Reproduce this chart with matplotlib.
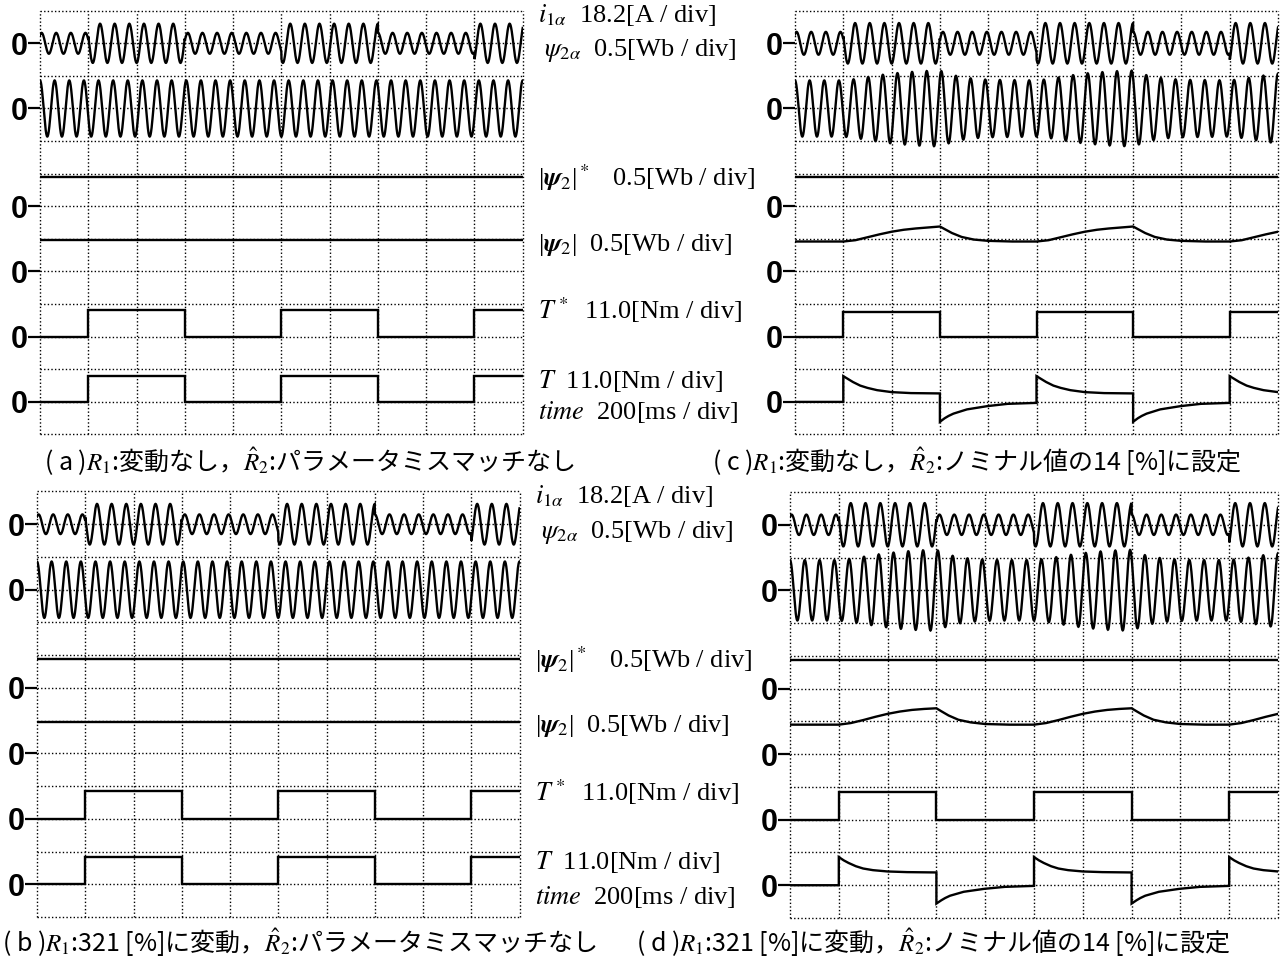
import numpy as np
import matplotlib
matplotlib.use("Agg")
from matplotlib import pyplot as plt

plt.rcParams['mathtext.fontset'] = 'stix'

W, H = 1283, 958

# ---- data (all levels in scope divisions above each channel's zero) ----
n_div = 10
n_rows = 13
cycles_per_div = 3.3
on_times = [1, 5, 9]          # T* steps up [div]
off_times = [3, 7]            # T* steps down [div]
on_intervals = [(1, 3), (5, 7), (9, 10)]

# channel zero positions on the 13-row screen (rows counted from the bottom)
zero_rows = {'i1a': 12, 'psia': 10, 'psiref': 7, 'psi': 5, 'Tref': 3, 'T': 1}

# panels without R2 mismatch: constant levels
const_a = {'i_small': 0.32, 'i_large': 0.60, 'psia_amp': 0.86,
           'psiref': 0.90, 'psi': 0.97, 'Tref': 0.82, 'T': 0.80}
const_b = {'i_small': 0.30, 'i_large': 0.62, 'psia_amp': 0.86,
           'psiref': 0.88, 'psi': 0.97, 'Tref': 0.84, 'T': 0.82}

# panels with R2 set to 14 %: responses after a step (offset [div], level [div])
rise_off = [0, 0.25, 0.5, 0.75, 1.0, 1.25, 1.5, 1.75, 2.0]
fall_off = [0, 0.1, 0.25, 0.45, 0.7, 1.0, 1.5, 2.0]
psi_rise_c = [0.92, 0.96, 1.05, 1.14, 1.22, 1.28, 1.32, 1.35, 1.38]
psi_fall_c = [1.38, 1.30, 1.18, 1.06, 0.98, 0.94, 0.92, 0.92]
env_rise_c = [0.86, 0.90, 0.96, 1.02, 1.07, 1.10, 1.13, 1.15, 1.16]
env_fall_c = [1.16, 1.11, 1.03, 0.96, 0.91, 0.88, 0.87, 0.86]
psi_rise_d = [0.90, 0.95, 1.04, 1.14, 1.23, 1.30, 1.35, 1.38, 1.40]
psi_fall_d = [1.40, 1.31, 1.18, 1.05, 0.97, 0.92, 0.90, 0.90]
env_rise_d = [0.92, 0.96, 1.02, 1.08, 1.13, 1.17, 1.20, 1.22, 1.23]
env_fall_d = [1.23, 1.17, 1.08, 1.01, 0.96, 0.93, 0.92, 0.92]

T_rise_off = [0, 0.1, 0.2, 0.35, 0.5, 0.7, 1.0, 1.4, 2.0]
T_fall_off = [0, 0.1, 0.18, 0.28, 0.56, 0.98, 1.4, 2.0]
T_rise_c = [0.79, 0.70, 0.61, 0.50, 0.43, 0.36, 0.30, 0.27, 0.26]
T_fall_c = [-0.61, -0.50, -0.43, -0.36, -0.23, -0.13, -0.06, -0.03]
T_rise_d = [0.86, 0.76, 0.68, 0.58, 0.51, 0.46, 0.42, 0.40, 0.39]
T_fall_d = [-0.56, -0.46, -0.39, -0.32, -0.20, -0.11, -0.05, -0.02]

var_c = {'i_small': 0.35, 'i_large': 0.62, 'psiref': 0.90, 'Tref': 0.77}
var_d = {'i_small': 0.31, 'i_large': 0.66, 'psiref': 0.86, 'Tref': 0.85}

# texts
labels = [r"$i_{1\alpha}$  18.2[A / div]",
          r" $\psi_{2\alpha}$  0.5[Wb / div]",
          r"|$\boldsymbol{\psi}_2$|$^*$   0.5[Wb / div]",
          r"|$\boldsymbol{\psi}_2$|  0.5[Wb / div]",
          r"$T^*$  11.0[Nm / div]",
          r"$T$  11.0[Nm / div]",
          r"$time$  200[ms / div]"]
label_y_top = [15, 50, 178, 245, 310, 381, 412]
label_y_bot = [496, 532, 660, 726, 792, 862, 897]

captions = {'a': "( a )$R_1$:変動なし，$\\hat{R}_2$:パラメータミスマッチなし",
            'c': "( c )$R_1$:変動なし，$\\hat{R}_2$:ノミナル値の14 [%]に設定",
            'b': "( b )$R_1$:321 [%]に変動，$\\hat{R}_2$:パラメータミスマッチなし",
            'd': "( d )$R_1$:321 [%]に変動，$\\hat{R}_2$:ノミナル値の14 [%]に設定"}

# ---- layout (pixels: left, top, right, bottom) ----
frames = {'a': (40, 10.7, 522.7, 434.5), 'c': (795, 10.7, 1278, 434.5),
          'b': (37, 491.5, 519.5, 917), 'd': (790, 492, 1278, 918)}
caption_xy = {'a': (44, 462), 'c': (712, 462), 'b': (2, 943), 'd': (636, 943)}
caption_size = 18


def build_trace(base, r_off, r_val, f_off, f_val):
    ts, vs = [0, on_times[0]], [base, base]
    events = sorted([(x, 'r') for x in on_times] + [(x, 'f') for x in off_times])
    for k, (t0, kind) in enumerate(events):
        t_end = events[k + 1][0] if k + 1 < len(events) else n_div
        offs, vals = (r_off, r_val) if kind == 'r' else (f_off, f_val)
        seg = t_end - t0
        for o, v in zip(offs, vals):
            if o <= seg + 1e-9:
                ts.append(t0 + o)
                vs.append(v)
        if ts[-1] < t_end - 1e-9:
            ts.append(t_end)
            vs.append(np.interp(seg, offs, vals))
    return np.array(ts), np.array(vs)


def square(high):
    return build_trace(0, [0, 2], [high, high], [0, 2], [0, 0])


t = np.linspace(0, n_div, 5000)
theta = 2 * np.pi * cycles_per_div * t
on_mask = np.zeros_like(t, dtype=bool)
for t0, t1 in on_intervals:
    on_mask |= (t >= t0) & (t <= t1)

fig = plt.figure(figsize=(W / 100, H / 100), dpi=100)
dot = (0, (1, 1.6))


def make_axes(key):
    l, tp, r, b = frames[key]
    ax = fig.add_axes([l / W, 1 - b / H, (r - l) / W, (b - tp) / H])
    ax.set_xlim(0, n_div)
    ax.set_ylim(0, n_rows)
    for s in ax.spines.values():
        s.set_visible(False)
    ax.set_xticks([])
    zs = list(zero_rows.values())
    ax.set_yticks(zs, ['0'] * len(zs))
    ax.tick_params(axis='y', which='major', direction='out', length=8.5,
                   width=1.6, pad=0.3, labelsize=22)
    for lb in ax.get_yticklabels():
        lb.set_fontfamily('Liberation Sans')
        lb.set_fontweight('bold')
    ax.vlines(np.arange(n_div + 1), 0, n_rows, colors='black', lw=1.0,
              linestyles=[dot], clip_on=False)
    ax.hlines(np.arange(n_rows + 1), 0, n_div, colors='black', lw=1.0,
              linestyles=[dot], clip_on=False)
    return ax


def draw(ax, ti, vi, row):
    ax.plot(ti, zero_rows[row] + np.asarray(vi), color='black', lw=1.7,
            solid_joinstyle='miter')


# panels (a) and (b)
for key, cv in (('a', const_a), ('b', const_b)):
    ax = make_axes(key)
    amp = np.where(on_mask, cv['i_large'], cv['i_small'])
    draw(ax, t, amp * np.sin(theta + 0.9), 'i1a')
    draw(ax, t, cv['psia_amp'] * np.cos(theta), 'psia')
    draw(ax, [0, n_div], [cv['psiref']] * 2, 'psiref')
    draw(ax, [0, n_div], [cv['psi']] * 2, 'psi')
    draw(ax, *square(cv['Tref']), 'Tref')
    draw(ax, *square(cv['T']), 'T')

# panels (c) and (d)
for key, cv, pr, pf, er, ef, tr, tf in (
        ('c', var_c, psi_rise_c, psi_fall_c, env_rise_c, env_fall_c, T_rise_c, T_fall_c),
        ('d', var_d, psi_rise_d, psi_fall_d, env_rise_d, env_fall_d, T_rise_d, T_fall_d)):
    ax = make_axes(key)
    amp = np.where(on_mask, cv['i_large'], cv['i_small'])
    draw(ax, t, amp * np.sin(theta + 0.9), 'i1a')
    et, ev = build_trace(er[0], rise_off, er, fall_off, ef)
    draw(ax, t, np.interp(t, et, ev) * np.cos(theta), 'psia')
    draw(ax, [0, n_div], [cv['psiref']] * 2, 'psiref')
    draw(ax, *build_trace(pr[0], rise_off, pr, fall_off, pf), 'psi')
    draw(ax, *square(cv['Tref']), 'Tref')
    draw(ax, *build_trace(0, T_rise_off, tr, T_fall_off, tf), 'T')

# channel labels between the panels
for ys, x0 in ((label_y_top, 538), (label_y_bot, 535)):
    for txt, y in zip(labels, ys):
        fig.text(x0 / W, 1 - y / H, txt, ha='left', va='center',
                 fontsize=19, fontfamily='Liberation Serif')

for key, txt in captions.items():
    x, y = caption_xy[key]
    fig.text(x / W, 1 - y / H, txt, ha='left', va='center',
             fontsize=caption_size, fontfamily='Noto Sans CJK JP')

fig.savefig('out.png', dpi=100)
